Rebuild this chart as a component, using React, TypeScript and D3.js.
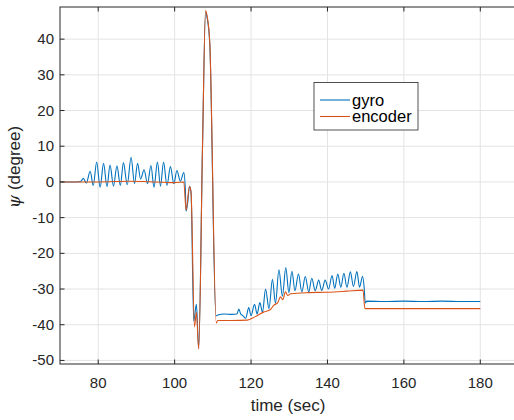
import React from "react";
import * as d3 from "d3";

// gyro trace: time (sec) and psi (degree)
const gyroTime = [
  70, 74.5, 75.5, 76.1, 76.9, 77.9, 78.7, 79.6, 80.5, 81.4, 82.3, 83.1, 84.0, 84.9, 85.8, 86.6,
  87.6, 88.6, 89.5, 90.3, 91.1, 92.0, 92.9, 93.8, 94.6, 95.5, 96.3, 97.1, 98.0, 98.9, 99.8, 100.6,
  101.5, 102.4, 102.8, 103.0, 103.4, 103.9, 104.3, 105.0, 105.7, 106.3, 107.3, 108.1, 108.5, 109.2,
  110.8, 111.3, 113, 115, 116.3, 116.8, 117.3, 117.9, 118.6, 119.4, 120.0, 120.9, 121.6, 122.3,
  123.0, 123.8, 124.7, 125.6, 126.4, 127.3, 128.2, 129.1, 129.9, 130.7, 131.5, 132.4, 133.3, 134.2,
  135.1, 135.9, 136.8, 137.7, 138.5, 139.4, 140.3, 141.2, 141.9, 142.7, 143.5, 144.3, 145.1, 146.0,
  146.8, 147.7, 148.4, 149.2, 149.6, 149.9, 150.3, 155, 160, 165, 170, 175, 180,
];
const gyroValue = [
  0, 0, 0.2, 1.0, -0.3, 3.0, -1.0, 5.6, -1.5, 5.2, -1.3, 4.7, -1.2, 4.5, -1.0, 5.4,
  -0.8, 6.9, -0.5, 5.2, 0.8, 3.4, -0.5, 4.6, -1.5, 5.6, -1.2, 5.6, -1.0, 4.3, -0.5, 3.2,
  0.2, 2.6, -2, -8.2, -6, -1.2, -3, -39, -34.3, -46.5, 10, 47.5, 46, 38.7,
  -37.5, -37.3, -37.0, -37.1, -37, -35.6, -37, -37.5, -38.2, -35.2, -37.5, -34.3, -37, -33.8,
  -36.5, -30, -35.5, -27.3, -34, -24.6, -32, -24, -31, -25, -30.5, -25.8, -30.8, -26.5,
  -30.8, -27, -30.5, -27.5, -30.4, -27.5, -30, -26.2, -29.8, -25.8, -29.5, -25.6, -29.5, -25.2,
  -29.3, -25.1, -29.5, -26.4, -29.5, -33.9, -33.4, -33.5, -33.4, -33.5, -33.4, -33.5, -33.5,
];

// encoder trace
const encTime = [
  70, 80, 88, 95, 100, 102.4, 103.0, 103.9, 104.3, 105.2, 105.7, 106.3, 107.3, 108.1, 108.5, 109.2,
  110.9, 111.3, 115, 119, 121, 123.4, 125, 126, 127, 127.7, 128.3, 129, 129.6, 130.4,
  135, 140, 145, 149.3, 149.8, 180,
];
const encValue = [
  0, 0, 0.2, 0, -0.2, 0, -7.9, -1.2, -3, -40.6, -36.5, -46.8, 10, 48, 46.5, 39,
  -39.5, -38.8, -38.8, -38.7, -37.8, -36.4, -35.8, -34.5, -33.8, -32.2, -33, -30.8, -31.8, -31.3,
  -31.0, -30.9, -30.6, -30.3, -35.5, -35.5,
];

const xTicks = [80, 100, 120, 140, 160, 180];
const yTicks = [-50, -40, -30, -20, -10, 0, 10, 20, 30, 40];
const seriesNames = ["gyro", "encoder"];

const W = 514;
const H = 420;
const left = 60;
const right = 518.5;
const top = 7;
const bottom = 364;

export default function App() {
  const x = d3.scaleLinear().domain([70, 190]).range([left, right]);
  const y = d3.scaleLinear().domain([-51, 49]).range([bottom, top]);

  const gyro = gyroTime.map((t, i) => [t, gyroValue[i]] as [number, number]);
  const enc = encTime.map((t, i) => [t, encValue[i]] as [number, number]);

  // smooth the sampled peaks like the original trace
  const line = d3
    .line<[number, number]>()
    .x((d) => x(d[0]))
    .y((d) => y(d[1]))
    .curve(d3.curveMonotoneX);

  const axisColor = "#262626";
  const gridColor = "#e3e3e3";
  const font = "'Liberation Sans', Arial, sans-serif";
  const tickLen = 4.5;

  return (
    <svg width={W} height={H} style={{ display: "block" }}>
      <style>{"body{margin:0}"}</style>
      <defs>
        <clipPath id="plot">
          <rect x={left} y={top} width={right - left} height={bottom - top} />
        </clipPath>
      </defs>
      <rect x={0} y={0} width={W} height={H} fill="#ffffff" />
      {/* grid */}
      {xTicks.map((t) => (
        <line key={"gx" + t} x1={x(t)} x2={x(t)} y1={top} y2={bottom} stroke={gridColor} strokeWidth={1} />
      ))}
      {yTicks.map((t) => (
        <line key={"gy" + t} x1={left} x2={right} y1={y(t)} y2={y(t)} stroke={gridColor} strokeWidth={1} />
      ))}

      {/* data */}
      <g clipPath="url(#plot)">
        <path d={line(gyro) ?? ""} fill="none" stroke="#0072BD" strokeWidth={1.1} />
        <path d={line(enc) ?? ""} fill="none" stroke="#D95319" strokeWidth={1.1} />
      </g>

      {/* box */}
      <rect x={left} y={top} width={right - left} height={bottom - top} fill="none" stroke={axisColor} strokeWidth={1} />
      {xTicks.map((t) => (
        <g key={"tx" + t}>
          <line x1={x(t)} x2={x(t)} y1={bottom} y2={bottom - tickLen} stroke={axisColor} />
          <line x1={x(t)} x2={x(t)} y1={top} y2={top + tickLen} stroke={axisColor} />
          <text x={x(t)} y={388} textAnchor="middle" fontFamily={font} fontSize={15} fill={axisColor}>
            {t}
          </text>
        </g>
      ))}
      {yTicks.map((t) => (
        <g key={"ty" + t}>
          <line x1={left} x2={left + tickLen} y1={y(t)} y2={y(t)} stroke={axisColor} />
          <text x={54} y={y(t) + 5} textAnchor="end" fontFamily={font} fontSize={15} fill={axisColor}>
            {t}
          </text>
        </g>
      ))}

      {/* axis labels */}
      <text x={288} y={411} textAnchor="middle" fontFamily={font} fontSize={17} fill={axisColor}>
        time (sec)
      </text>
      <text transform="translate(20,167) rotate(-90)" textAnchor="middle" fontFamily={font} fontSize={17} fill={axisColor}>
        <tspan fontFamily="'DejaVu Serif', serif" fontStyle="italic">ψ</tspan> (degree)
      </text>

      {/* legend */}
      <rect x={314} y={82.5} width={104} height={47.5} fill="#ffffff" stroke={axisColor} strokeWidth={0.8} />
      {seriesNames.map((name, i) => (
        <g key={name}>
          <line x1={320} x2={350} y1={100 + i * 16.5} y2={100 + i * 16.5} stroke={i === 0 ? "#0072BD" : "#D95319"} strokeWidth={1.1} />
          <text x={352} y={100 + i * 16.5 + 5.5} fontFamily={font} fontSize={16.5} fill="#000">
            {name}
          </text>
        </g>
      ))}
    </svg>
  );
}
